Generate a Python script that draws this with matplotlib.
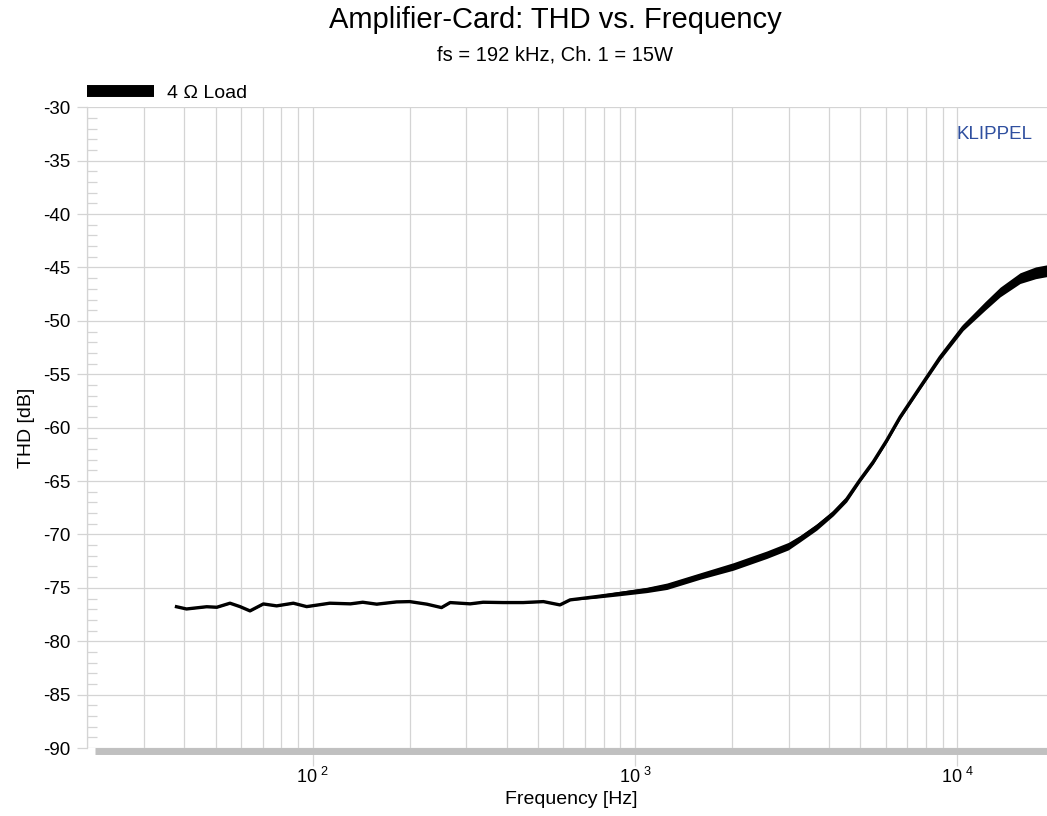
import numpy as np
import matplotlib
matplotlib.use("Agg")
import matplotlib.pyplot as plt
from matplotlib.lines import Line2D
from matplotlib.ticker import FixedLocator, FixedFormatter, NullFormatter, MultipleLocator

plt.rcParams['font.family'] = ['Liberation Sans', 'DejaVu Sans']
plt.rcParams['mathtext.default'] = 'regular'
plt.rcParams['axes.unicode_minus'] = False

# THD curve (Hz, dB)
freq = [37.8, 40.6, 46.9, 50.4, 55.4, 59.5, 63.9, 70.3, 77.3, 87.1, 95.8,
        113, 131, 143, 158, 182, 200, 226, 251, 267, 308, 338, 390, 450,
        520, 585, 629, 760, 878, 1087, 1257, 1591, 2018, 2563, 2990, 3251,
        3663, 4124, 4538, 4989, 5488, 6039, 6650, 7670, 8850, 10430, 12200,
        13580, 15660, 17500, 19000, 20000]
thd = [-76.77, -76.98, -76.77, -76.82, -76.44, -76.76, -77.16, -76.51, -76.69,
       -76.44, -76.76, -76.44, -76.50, -76.35, -76.53, -76.32, -76.29, -76.53,
       -76.85, -76.38, -76.50, -76.35, -76.38, -76.38, -76.29, -76.60, -76.13,
       -75.82, -75.57, -75.20, -74.85, -73.9, -73.0, -71.9, -71.1, -70.4,
       -69.3, -68.0, -66.7, -64.9, -63.2, -61.2, -59.0, -56.2, -53.4, -50.6,
       -48.6, -47.3, -46.0, -45.5, -45.3, -45.3]
# half width of the noisy trace band (dB)
spread = [0.05] * 27 + [0.15, 0.2, 0.25, 0.3, 0.3, 0.35, 0.35, 0.35, 0.3,
                        0.3, 0.25, 0.25, 0.2, 0.2, 0.2, 0.2, 0.2, 0.25, 0.3,
                        0.4, 0.45, 0.5, 0.55, 0.55, 0.55]

yticks = [-30, -35, -40, -45, -50, -55, -60, -65, -70, -75, -80, -85, -90]
xticks = [100, 1000, 10000]
xticklabels = ['10$^{\\ 2}$', '10$^{\\ 3}$', '10$^{\\ 4}$']

grid_c = '#d4d4d4'

fig = plt.figure(figsize=(10.47, 8.16), dpi=100)
ax = fig.add_axes([87.4 / 1047, 68 / 816, (1054.3 - 87.4) / 1047, 640.7 / 816])
ax.set_xscale('log')
ax.set_xlim(20, 20000)
ax.set_ylim(-90, -30)

f = np.array(freq)
t = np.array(thd)
s = np.array(spread)
ax.fill_between(f, t - s, t + s, color='black', lw=0, zorder=3)
ax.plot(f, t, color='black', lw=2.4, zorder=3, solid_joinstyle='round')

# grid
minors = [m * 10 ** e for e in range(1, 5) for m in range(2, 10) if m * 10 ** e <= 20000]
ax.xaxis.set_major_locator(FixedLocator(xticks))
ax.xaxis.set_major_formatter(FixedFormatter(xticklabels))
ax.xaxis.set_minor_locator(FixedLocator(minors))
ax.xaxis.set_minor_formatter(NullFormatter())
ax.yaxis.set_major_locator(FixedLocator(yticks))
ax.yaxis.set_minor_locator(MultipleLocator(1))
ax.grid(True, which='major', color=grid_c, lw=0.9, zorder=0)
ax.grid(True, which='minor', axis='x', color=grid_c, lw=0.9, zorder=0)
ax.set_axisbelow(True)

ax.tick_params(axis='x', which='major', direction='out', length=11, width=0.9,
               color=grid_c, labelsize=13, pad=0)
ax.tick_params(axis='x', which='minor', length=0)
ax.tick_params(axis='y', which='major', direction='out', length=7.2, width=0.9,
               color=grid_c, labelsize=13.5, pad=5)
ax.tick_params(axis='y', which='minor', direction='in', length=7.2, width=0.9,
               color=grid_c)

for sp in ['top', 'right']:
    ax.spines[sp].set_visible(False)
ax.spines['left'].set_color(grid_c)
ax.spines['left'].set_linewidth(0.9)
ax.spines['bottom'].set_color('#c0c0c0')
ax.spines['bottom'].set_linewidth(5)
ax.spines['bottom'].set_capstyle('butt')
ax.spines['bottom'].set_position(('outward', 2.5))
ax.spines['bottom'].set_bounds(21.1, 20000)

ax.set_xlabel('Frequency [Hz]', fontsize=14, labelpad=3)
ax.set_ylabel('THD [dB]', fontsize=14, labelpad=6)

fig.text(555 / 1047, 1 - 20 / 816, 'Amplifier-Card: THD vs. Frequency',
         fontsize=21, ha='center', va='center')
fig.text(555 / 1047, 1 - 55 / 816, 'fs = 192 kHz, Ch. 1 = 15W',
         fontsize=14.5, ha='center', va='center')
ax.text(0.977, 0.957, 'KLIPPEL', transform=ax.transAxes, color='#2f4f9f',
        fontsize=13.5, ha='right', va='center')

handle = Line2D([], [], color='black', lw=8.6, solid_capstyle='butt')
ax.legend([handle], ['4 Ω Load'], loc='lower left',
          bbox_to_anchor=(0.0, 1.0 + 5 / 640.7),
          frameon=False, fontsize=14, handlelength=3.45, handletextpad=0.65,
          borderaxespad=0.0, borderpad=0.0)

fig.savefig('out.png', dpi=100)
